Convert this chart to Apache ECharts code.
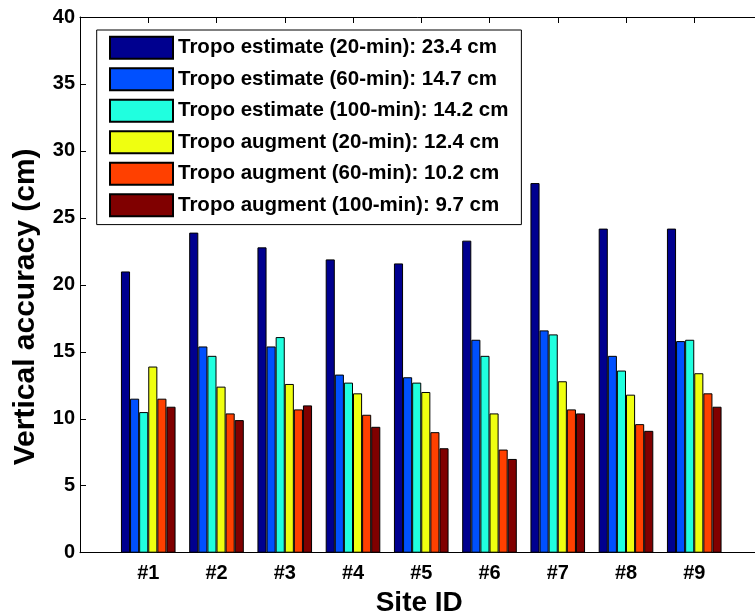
<!DOCTYPE html>
<html>
<head>
<meta charset="utf-8">
<script src="https://cdn.jsdelivr.net/npm/echarts@6/dist/echarts.min.js"></script>
<style>
html,body{margin:0;padding:0;background:#fff;}
#chart{width:755px;height:615px;}
</style>
</head>
<body>
<div id="chart"></div>
<script>
var categories = ['#1','#2','#3','#4','#5','#6','#7','#8','#9'];
var seriesNames = [
  'Tropo estimate (20-min): 23.4 cm',
  'Tropo estimate (60-min): 14.7 cm',
  'Tropo estimate (100-min): 14.2 cm',
  'Tropo augment (20-min): 12.4 cm',
  'Tropo augment (60-min): 10.2 cm',
  'Tropo augment (100-min): 9.7 cm'
];
var est20  = [21.0, 23.9, 22.8, 21.9, 21.6, 23.3, 27.6, 24.2, 24.2];
var est60  = [11.5, 15.4, 15.4, 13.3, 13.1, 15.9, 16.6, 14.7, 15.8];
var est100 = [10.5, 14.7, 16.1, 12.7, 12.7, 14.7, 16.3, 13.6, 15.9];
var aug20  = [13.9, 12.4, 12.6, 11.9, 12.0, 10.4, 12.8, 11.8, 13.4];
var aug60  = [11.5, 10.4, 10.7, 10.3, 9.0, 7.7, 10.7, 9.6, 11.9];
var aug100 = [10.9, 9.9, 11.0, 9.4, 7.8, 7.0, 10.4, 9.1, 10.9];
var yTicks = [0, 5, 10, 15, 20, 25, 30, 35, 40];

var colors = ['#00008f', '#0050ff', '#20ffdf', '#efff10', '#ff4000', '#800000'];
var allValues = [est20, est60, est100, aug20, aug60, aug100];

// pad categories so that the x range runs from 0 to 10 like the original
var axisCats = [''].concat(categories).concat(['']);
function pad(arr){ return [null].concat(arr).concat([null]); }

var FONT = 'Liberation Sans, Arial, Helvetica, sans-serif';

var series = allValues.map(function(vals, i){
  return {
    name: seriesNames[i],
    type: 'bar',
    data: pad(vals),
    barWidth: 9.1,
    barGap: '0%',
    itemStyle: { color: colors[i], borderColor: '#000', borderWidth: 1 }
  };
});

var chart = echarts.init(document.getElementById('chart'));
chart.setOption({
  animation: false,
  backgroundColor: '#fff',
  grid: { left: 80, right: -7.5, top: 17, bottom: 62.3, containLabel: false, outerBoundsMode: 'none' },
  legend: {
    orient: 'vertical',
    left: 96.7,
    top: 30,
    padding: [5.7, 13, 7.4, 12.3],
    itemWidth: 63,
    itemHeight: 22,
    itemGap: 7.5,
    icon: 'rect',
    selectedMode: false,
    backgroundColor: '#fff',
    borderColor: '#000',
    borderWidth: 1,
    textStyle: { fontFamily: FONT, fontWeight: 'bold', fontSize: 20.5, color: '#000' },
    data: seriesNames
  },
  xAxis: [{
    type: 'category',
    data: axisCats,
    boundaryGap: false,
    position: 'bottom',
    name: 'Site ID',
    nameLocation: 'middle',
    nameGap: 37,
    nameTextStyle: { fontFamily: FONT, fontWeight: 'bold', fontSize: 28, color: '#000', padding: [0, 4, 0, 0] },
    axisLine: { show: true, lineStyle: { color: '#000', width: 1 } },
    axisTick: { show: false },
    axisLabel: { fontFamily: FONT, fontWeight: 'bold', fontSize: 20, color: '#000', margin: 11, interval: 0 },
    splitLine: { show: false }
  }, {
    type: 'category',
    data: axisCats,
    boundaryGap: false,
    position: 'top',
    axisLine: { show: true, lineStyle: { color: '#000', width: 1 } },
    axisTick: { show: true, inside: true, length: 6, interval: 0, lineStyle: { color: '#000' } },
    axisLabel: { show: false },
    splitLine: { show: false }
  }],
  yAxis: {
    type: 'value',
    min: yTicks[0],
    max: yTicks[yTicks.length - 1],
    interval: 5,
    name: 'Vertical accuracy (cm)',
    nameLocation: 'middle',
    nameGap: 39,
    nameTextStyle: { fontFamily: FONT, fontWeight: 'bold', fontSize: 30, color: '#000', padding: [0, 44, 0, 0] },
    axisLine: { show: true, lineStyle: { color: '#000', width: 1 } },
    axisTick: { show: true, inside: true, length: 6, lineStyle: { color: '#000' } },
    axisLabel: { fontFamily: FONT, fontWeight: 'bold', fontSize: 20, color: '#000', margin: 5 },
    splitLine: { show: false }
  },
  series: series
});
</script>
</body>
</html>
